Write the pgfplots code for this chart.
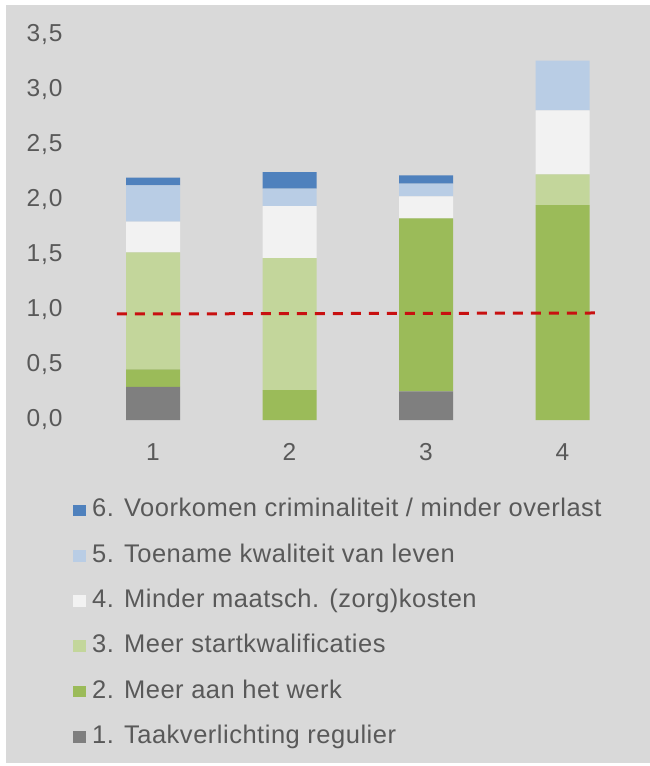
\documentclass[border=0pt]{standalone}
\usepackage{pgfplots}
\pgfplotsset{compat=1.18}
\usepackage{fontspec}
\setmainfont{Liberation Sans}
\newfontfamily\legfont[LetterSpace=2]{Liberation Sans}
\newfontfamily\tickfont[LetterSpace=4]{Liberation Sans}
\definecolor{bg}{HTML}{D9D9D9}
\definecolor{txt}{HTML}{595959}
\definecolor{sSix}{HTML}{4F81BD}
\definecolor{sFive}{HTML}{B9CDE5}
\definecolor{sFour}{HTML}{F2F2F2}
\definecolor{sThree}{HTML}{C3D69B}
\definecolor{sTwo}{HTML}{9BBB59}
\definecolor{sOne}{HTML}{7F7F7F}
\definecolor{lineRed}{HTML}{C81010}
\begin{document}
\begin{tikzpicture}[x=1pt,y=1pt]
\fill[white] (0,0) rectangle (650,766);
\fill[bg] (6,3) rectangle (650,761);
\begin{axis}[
  at={(84.75pt,346pt)}, anchor=south west,
  scale only axis, width=546pt, height=385.7pt,
  xmin=0.5, xmax=4.5, ymin=0, ymax=3.5,
  ybar stacked, bar width=54pt,
  axis line style={draw=none}, major tick length=0pt,
  xtick={1,2,3,4}, xticklabels={1,2,3,4},
  ytick={0,0.5,1,1.5,2,2.5,3,3.5},
  /pgf/number format/.cd, use comma, fixed, fixed zerofill, precision=1, assume math mode=true,
  /pgfplots/.cd,
  tick label style={font=\tickfont\fontsize{24.5}{28}\selectfont, text=txt},
  yticklabel style={anchor=east, inner sep=0pt, xshift=-22pt},
  xticklabel style={anchor=north, inner sep=0pt, yshift=-23.3pt},
  every axis plot post/.append style={draw=none,
    legend image code/.code={\fill[##1] (0pt,-4.9pt) rectangle (13.7pt,6.8pt);}},
  reverse legend,
  legend style={at={(-0.0228,-0.2092)}, anchor=north west, draw=none, fill=none,
    font=\legfont\fontsize{25.5}{30}\selectfont, text=txt, inner sep=0pt,
    row sep=24.3pt, column sep=6pt,
    nodes={inner sep=0pt, text height=16pt, text depth=5pt}},
  legend cell align=left,
]
\addplot[fill=sOne] coordinates {(1,0.30) (2,0) (3,0.26) (4,0)};
\addlegendentry{1. Taakverlichting regulier}
\addplot[fill=sTwo] coordinates {(1,0.16) (2,0.27) (3,1.57) (4,1.95)};
\addlegendentry{2. Meer aan het werk}
\addplot[fill=sThree] coordinates {(1,1.06) (2,1.20) (3,0) (4,0.28)};
\addlegendentry{3. Meer startkwalificaties}
\addplot[fill=sFour] coordinates {(1,0.28) (2,0.47) (3,0.20) (4,0.58)};
\addlegendentry{4. Minder maatsch. (zorg)kosten}
\addplot[fill=sFive] coordinates {(1,0.33) (2,0.16) (3,0.115) (4,0.45)};
\addlegendentry{5. Toename kwaliteit van leven}
\addplot[fill=sSix] coordinates {(1,0.07) (2,0.15) (3,0.075) (4,0)};
\addlegendentry{6. Voorkomen criminaliteit / minder overlast}
\end{axis}
\begin{axis}[
  at={(84.75pt,346pt)}, anchor=south west,
  scale only axis, width=546pt, height=385.7pt,
  xmin=0.5, xmax=4.5, ymin=0, ymax=3.5, hide axis,
]
\addplot[lineRed, line width=3pt, dash pattern=on 10pt off 8pt] coordinates {(0.736,0.962) (4.238,0.971)};
\end{axis}
\end{tikzpicture}
\end{document}
